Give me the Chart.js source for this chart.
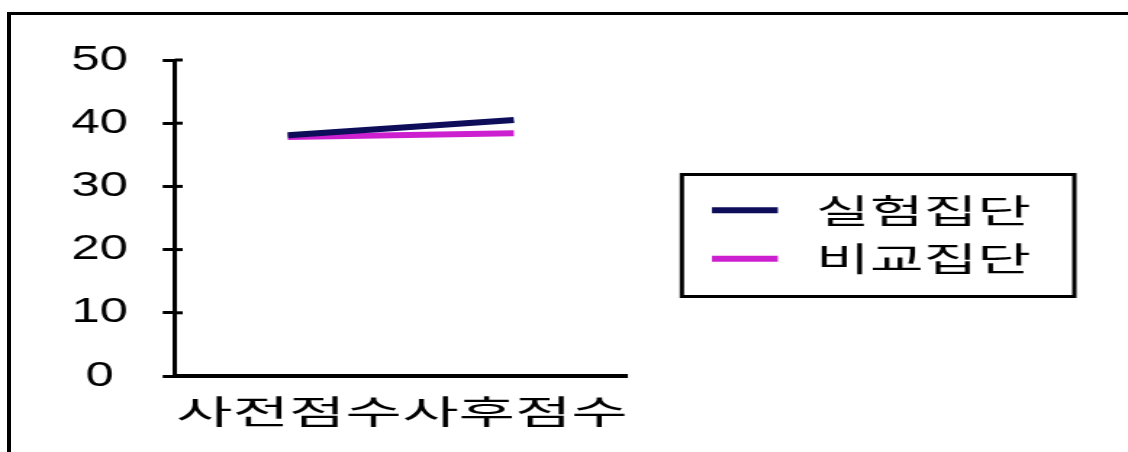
<!DOCTYPE html>
<html>
<head>
<meta charset="utf-8">
<script src="https://cdn.jsdelivr.net/npm/chart.js@4/dist/chart.umd.min.js"></script>
<style>
  html, body { margin: 0; padding: 0; background: #fff; }
  #wrap { position: relative; width: 1128px; height: 452px; overflow: hidden; background: #fff; }
  #c { display: block; width: 1128px; height: 452px; }
  #frame { position: absolute; left: 7px; top: 12px; right: 0; bottom: 0;
           border-left: 4px solid #000; border-top: 3px solid #000; pointer-events: none; }
</style>
</head>
<body>
<div id="wrap">
  <canvas id="c" width="778" height="452" style="width:1128px;height:452px;"></canvas>
  <div id="frame"></div>
</div>
<script>
// ---- data ----
const categories = ['사전점수', '사후점수'];
const seriesNames = ['실험집단', '비교집단'];
const experimentalScores = [38.1, 40.5];
const comparisonScores = [37.8, 38.4];
const yTickValues = [0, 10, 20, 30, 40, 50];
const seriesColors = ['#0d0d5a', '#cc20d0'];

// ---- helpers / plugins ----
const KFONT = "'Noto Sans CJK KR', 'Noto Sans', sans-serif";
const AXIS_STRETCH = 1.28;
const LEGEND_STRETCH = 1.22;

function wideText(ctx, fn, sx) {
  const prevLS = ctx.letterSpacing;
  ctx.letterSpacing = '0px';
  const proto = Object.getPrototypeOf(ctx).fillText;
  ctx.fillText = function (text, x, y) {
    this.save();
    this.translate(x, y);
    this.scale(sx, 1);
    proto.call(this, text, 0, 0);
    this.restore();
  };
  try { fn(); } finally { delete ctx.fillText; ctx.letterSpacing = prevLS; }
}

const stylePlugin = {
  id: 'stylePlugin',
  afterLayout(chart) {
    const L = chart.legend;
    if (!L) return;
    L.left = 475.5; L.right = 711; L.top = 173; L.bottom = 296;
    L.width = L.right - L.left; L.height = L.bottom - L.top;
  },
  beforeDraw(chart) {
    const x = chart.scales.x;
    if (x && !x.__wide) {
      const orig = x.drawLabels;
      x.drawLabels = function (a) { wideText(this.ctx, () => orig.call(this, a), AXIS_STRETCH); };
      x.__wide = true;
    }
    const L = chart.legend;
    if (L && !L.__wide) {
      const origL = L.draw;
      L.draw = function (a) { wideText(this.ctx, () => origL.call(this, a), LEGEND_STRETCH); };
      L.__wide = true;
    }
  },
  afterDraw(chart) {
    const ctx = chart.ctx;
    const y = chart.scales.y;
    const left = chart.chartArea.left;
    ctx.save();
    // inner halves of the crossing tick marks
    ctx.strokeStyle = '#000';
    ctx.lineWidth = 3;
    y.ticks.forEach(t => {
      const py = y.getPixelForValue(t.value);
      ctx.beginPath();
      ctx.moveTo(left, py);
      ctx.lineTo(left + 5.5, py);
      ctx.stroke();
    });
    // legend frame
    ctx.lineWidth = 3;
    ctx.strokeRect(470.3, 174.5, 741 - 470.3, 296.5 - 174.5);
    ctx.restore();
  }
};

new Chart(document.getElementById('c'), {
  type: 'line',
  data: {
    labels: categories,
    datasets: [
      { label: seriesNames[0], data: experimentalScores, borderColor: seriesColors[0], backgroundColor: seriesColors[0],
        borderWidth: 6, pointRadius: 0, fill: false, tension: 0 },
      { label: seriesNames[1], data: comparisonScores, borderColor: seriesColors[1], backgroundColor: seriesColors[1],
        borderWidth: 6, pointRadius: 0, fill: false, tension: 0 }
    ]
  },
  options: {
    responsive: false,
    devicePixelRatio: 1,
    animation: false,
    events: [],
    layout: { padding: { left: 0, top: 60, right: 345.6, bottom: 0 } },
    scales: {
      x: {
        type: 'category',
        offset: true,
        grid: { display: false, drawTicks: false },
        border: { display: true, color: '#000', width: 4 },
        ticks: { color: '#000', padding: 15.2, labelOffset: 0.8, maxRotation: 0, autoSkip: false,
                 font: { family: KFONT, size: 33 } },
        afterFit(s) { s.height = 76; }
      },
      y: {
        min: 0, max: 50,
        grid: { display: true, drawOnChartArea: false, drawTicks: true, tickLength: 8.3,
                tickWidth: 3, tickColor: '#000', color: '#000', lineWidth: 3 },
        border: { display: true, color: '#000', width: 3 },
        ticks: { color: '#000', padding: 24, crossAlign: 'center',
                 font: { family: "'Liberation Sans', Arial, sans-serif", size: 35 } },
        afterBuildTicks(s) { s.ticks = yTickValues.map(v => ({ value: v })); },
        afterFit(s) { s.width = 120.5; }
      }
    },
    plugins: {
      tooltip: { enabled: false },
      title: { display: false },
      legend: {
        display: true,
        position: 'chartArea',
        align: 'center',
        labels: {
          boxWidth: 45.5, boxHeight: 6, padding: 15.5, color: '#000', textAlign: 'right',
          font: { family: KFONT, size: 33 },
          generateLabels(chart) {
            return chart.data.datasets.map((ds, i) => ({
              text: ds.label, fillStyle: ds.borderColor, strokeStyle: ds.borderColor,
              lineWidth: 0, hidden: false, datasetIndex: i, fontColor: '#000'
            }));
          }
        }
      }
    }
  },
  plugins: [stylePlugin]
});
</script>
</body>
</html>
